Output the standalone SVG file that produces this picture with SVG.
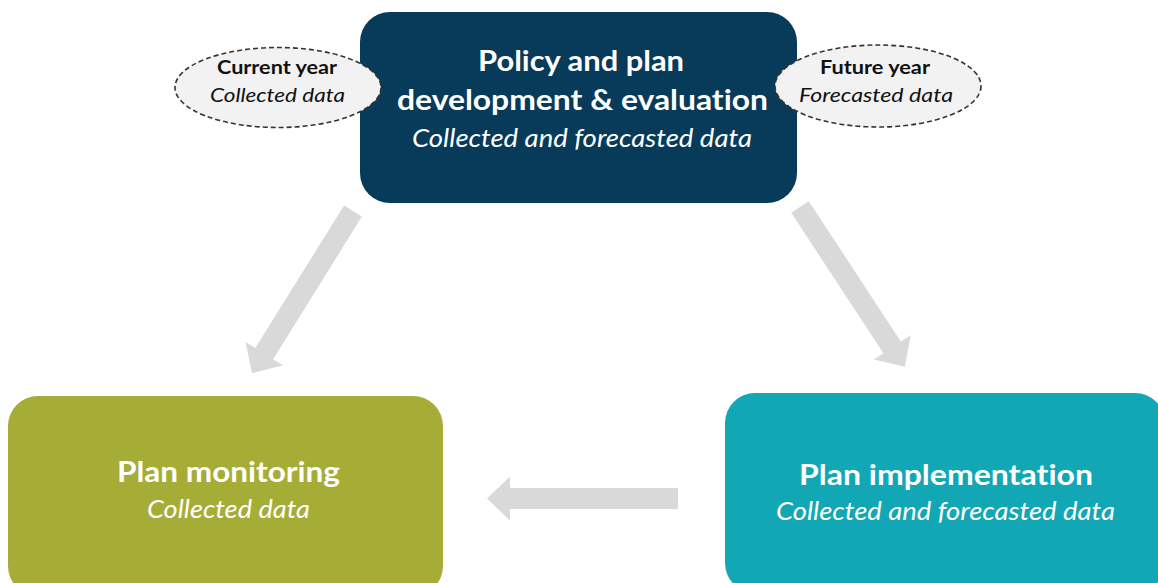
<svg xmlns="http://www.w3.org/2000/svg" width="1158" height="583" viewBox="0 0 1158 583">
  <style>
    .t { font-family: Lato, "Open Sans", "Liberation Sans", sans-serif; text-anchor: middle; font-variant-ligatures: none; }
    .h { font-weight: bold; font-size: 29px; fill: #ffffff; }
    .s { font-style: italic; font-size: 25px; fill: #ffffff; }
    .eh { font-weight: bold; font-size: 19px; fill: #111111; }
    .es { font-style: italic; font-size: 20px; fill: #111111; }
    .arrow { fill: #d9d9d9; }
    .ell { fill: #f2f2f2; stroke: #333333; stroke-width: 1.6; stroke-dasharray: 5 3; }
  </style>
  <defs>
    <polygon id="blk" points="0,-10.5 168,-10.5 168,-22 191,0 168,22 168,10.5 0,10.5"/>
  </defs>
  <rect width="1158" height="583" fill="#ffffff"/>
  <g id="connectors">
    <use href="#blk" class="arrow" transform="translate(353,211) rotate(121.9)"/>
    <use href="#blk" class="arrow" transform="translate(800,207) rotate(56.7)"/>
    <use href="#blk" class="arrow" transform="translate(678,498.5) rotate(180)"/>
  </g>
  <g id="policy">
    <rect x="360" y="12" width="437" height="191" rx="30" fill="#083a5a"/>
    <text class="t h" x="581" y="71" textLength="206" lengthAdjust="spacingAndGlyphs">Policy and plan</text>
    <text class="t h" x="582.5" y="110" textLength="371" lengthAdjust="spacingAndGlyphs">development &amp; evaluation</text>
    <text class="t s" x="582" y="147" textLength="340" lengthAdjust="spacingAndGlyphs">Collected and forecasted data</text>
  </g>
  <g id="current-year">
    <ellipse class="ell" cx="278" cy="87.5" rx="103" ry="40"/>
    <text class="t eh" x="277" y="74" textLength="120" lengthAdjust="spacingAndGlyphs">Current year</text>
    <text class="t es" x="277.5" y="102" textLength="135" lengthAdjust="spacingAndGlyphs">Collected data</text>
  </g>
  <g id="future-year">
    <ellipse class="ell" cx="878" cy="86" rx="103" ry="41"/>
    <text class="t eh" x="875" y="74" textLength="110" lengthAdjust="spacingAndGlyphs">Future year</text>
    <text class="t es" x="876" y="102" textLength="154" lengthAdjust="spacingAndGlyphs">Forecasted data</text>
  </g>
  <g id="monitoring">
    <rect x="8" y="396" width="435" height="200" rx="30" fill="#a5ad37"/>
    <text class="t h" x="228.5" y="482" textLength="223" lengthAdjust="spacingAndGlyphs">Plan monitoring</text>
    <text class="t s" x="228.5" y="518" textLength="163" lengthAdjust="spacingAndGlyphs">Collected data</text>
  </g>
  <g id="implementation">
    <rect x="725" y="393" width="440" height="200" rx="30" fill="#12a7b5"/>
    <text class="t h" x="946" y="485" textLength="294" lengthAdjust="spacingAndGlyphs">Plan implementation</text>
    <text class="t s" x="945.5" y="520" textLength="339" lengthAdjust="spacingAndGlyphs">Collected and forecasted data</text>
  </g>
</svg>
